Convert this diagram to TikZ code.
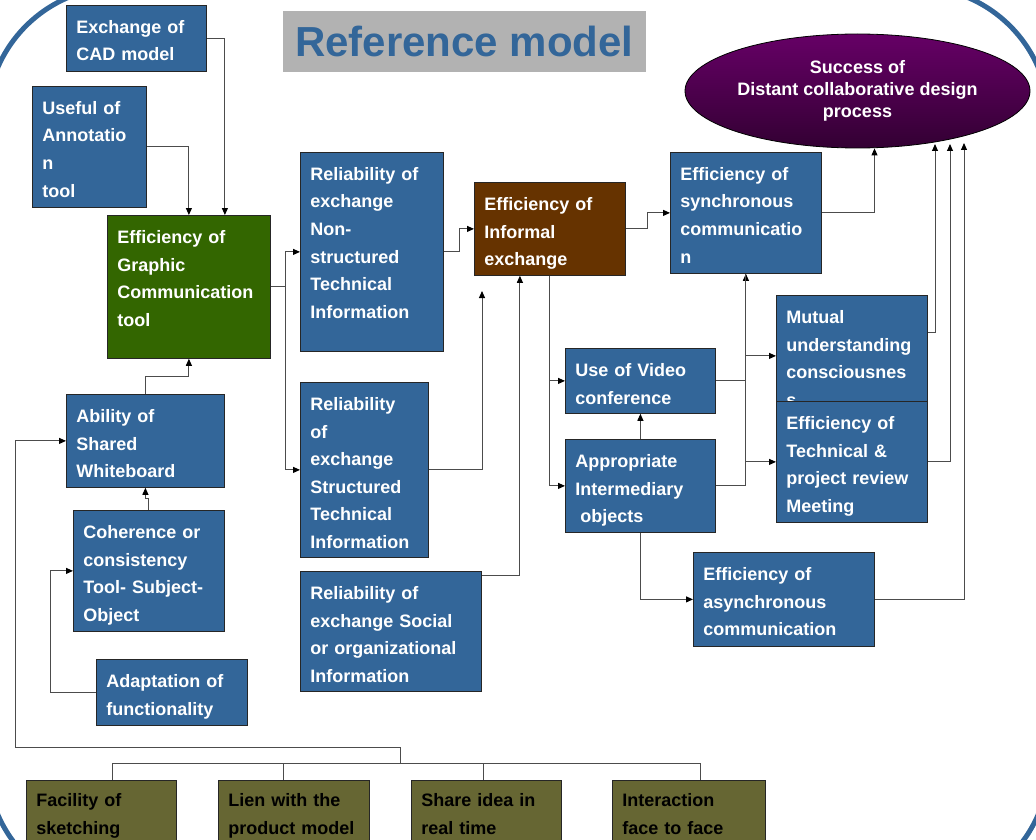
\documentclass[tikz,border=0pt]{standalone}
\usepackage{fontspec}
\setmainfont{Liberation Sans}
\usetikzlibrary{arrows.meta,positioning,shapes.geometric,calc}
\definecolor{boxblue}{RGB}{51,102,153}
\definecolor{boxgreen}{RGB}{51,102,0}
\definecolor{boxbrown}{RGB}{102,51,0}
\definecolor{boxolive}{RGB}{102,102,51}
\definecolor{purptop}{RGB}{102,0,102}
\definecolor{purpbot}{RGB}{51,0,51}
\definecolor{titlegray}{RGB}{178,178,178}
\hyphenpenalty=10000
\exhyphenpenalty=10000
\begin{document}
\begin{tikzpicture}[
  x=1pt, y=-1pt,
  font=\fontsize{18}{27.6}\selectfont\bfseries,
  factor/.style={draw=black!85, line width=0.8pt, fill=boxblue, text=white, anchor=north west,
                 align=left, inner xsep=10pt, inner ysep=0pt, text height=28pt},
  means/.style={factor, fill=boxolive, text=black, text height=26pt},
  sz/.style 2 args={text width=#1, text depth=#2},
  goal/.style={ellipse, draw=black, line width=0.8pt, top color=purptop, bottom color=purpbot,
               text=white, align=center, minimum width=345pt, minimum height=114pt, inner sep=0pt,
               font=\fontsize{18}{22}\selectfont\bfseries},
  titlebox/.style={fill=titlegray, text=boxblue, minimum width=363pt, minimum height=61pt,
                   inner sep=0pt, font=\fontsize{42}{50}\selectfont\bfseries},
  frame/.style={draw=boxblue, line width=5pt, rounded corners=133pt},
  link/.style={draw=black!70, line width=1pt},
  arrow/.style={link, -{Triangle[length=7pt, width=6pt, color=black]}},
]
\useasboundingbox (0,0) rectangle (1036,840);
\clip (0,0) rectangle (1036,840);

% --- Outer frame ---
\draw[frame] (-13,-13) rectangle (1049,895);

% --- Title and goal ---
\node[titlebox] (title) at (464.5,41.5) {Reference model};
\node[goal] (succ) at (857.5,91) {Success of\\Distant collaborative design\\process};

% --- Graphic communication branch ---
\node[factor, sz={120pt}{38pt}] (cad) at (66,5) {Exchange of\\CAD model};
\node[factor, sz={94pt}{93pt}] (annot) at (32,86) {Useful of\\Annotatio\\n\\tool};
\node[factor, fill=boxgreen, sz={143pt}{115pt}] (graph) at (107,215) {Efficiency of\\Graphic\\Communication\\tool};
\node[factor, sz={138pt}{65pt}] (wb) at (66,394) {Ability of\\Shared\\Whiteboard};
\node[factor, sz={131pt}{93pt}] (coh) at (73,510) {Coherence or\\consistency\\Tool- Subject-\\Object};
\node[factor, sz={131pt}{38pt}] (adapt) at (96,659) {Adaptation of\\functionality};

% --- Reliability of exchange ---
\node[factor, sz={123pt}{171pt}] (nonst) at (300,152) {Reliability of\\exchange\\Non-\\structured\\Technical\\Information};
\node[factor, sz={108pt}{147pt}] (struc) at (300,382) {Reliability\\of\\exchange\\Structured\\Technical\\Information};
\node[factor, sz={161pt}{92pt}] (social) at (300,571) {Reliability of\\exchange~Social\\or organizational\\Information};

% --- Informal exchange and communication ---
\node[factor, fill=boxbrown, sz={131pt}{65pt}] (inform) at (474,182) {Efficiency of\\Informal\\exchange};
\node[factor, sz={131pt}{93pt}] (sync) at (670,152) {Efficiency of\\synchronous\\communicatio\\n};
\node[factor, sz={130pt}{37pt}] (video) at (565,348) {Use of Video\\conference};
\node[factor, sz={130pt}{65pt}] (inter) at (565,439) {Appropriate\\Intermediary\\\hspace*{5pt}objects};
\node[factor, sz={131pt}{93pt}] (mutual) at (776,295) {Mutual\\understanding\\consciousnes\\s};
\node[factor, sz={131pt}{93pt}] (techrev) at (776,401) {Efficiency of\\Technical \&\\project review\\Meeting};
\node[factor, sz={161pt}{66pt}] (async) at (693,552) {Efficiency of\\asynchronous\\communication};

% --- Means at the bottom ---
\node[means, sz={130pt}{44pt}] (sketch) at (26,780) {Facility of\\sketching};
\node[means, sz={131pt}{44pt}] (lien) at (218,780) {Lien with the\\product model};
\node[means, sz={130pt}{44pt}] (share) at (411,780) {Share idea in\\real time};
\node[means, sz={133pt}{44pt}] (face) at (612,780) {Interaction\\face to face};

% --- Connectors, left part ---
\draw[arrow] (cad.east) -| ([xshift=36pt]graph.north);
\draw[arrow] (annot.east) -| (graph.north);
\draw[arrow] (wb.north) -- ++(0,-18) -| (graph.south);
\draw[arrow] (coh.north) -- ++(0,-12) -| (wb.south);
\draw[arrow] (adapt.west) -- ++(-46,0) |- (coh.west);
\draw[arrow] (graph.east) -- ++(15,0) |- (nonst.west);
\draw[arrow] (graph.east) -- ++(15,0) |- (struc.west);

% --- Connectors, middle part ---
\coordinate (strucend) at (482,291);
\draw[arrow] (nonst.east) -- ++(16,0) |- (inform.west);
\draw[arrow] (struc.east) -| (strucend);
\draw[arrow] ([yshift=-4pt]social.north east) -| ([xshift=-30pt]inform.south);
\draw[arrow] (inform.east) -- ++(22,0) |- (sync.west);
\draw[arrow] (inform.south) |- (video.west);
\draw[arrow] (inform.south) |- (inter.west);
\draw[arrow] (sync.east) -| ([xshift=17pt]succ.south);
\draw[arrow] (video.east) -| (sync.south);
\draw[link] (inter.east) -| (sync.south);
\draw[arrow] (sync.south |- mutual.west) -- (mutual.west);
\draw[arrow] (sync.south |- techrev.west) -- (techrev.west);
\draw[arrow] (inter.north) -- (video.south);
\draw[arrow] (inter.south) |- (async.west);

% --- Connectors to the goal ---
\coordinate (up1) at (935,144);
\coordinate (up2) at (950,144);
\coordinate (up3) at (964,143);
\draw[arrow] ([yshift=23pt]mutual.east) -| (up1);
\draw[arrow] (techrev.east) -| (up2);
\draw[arrow] (async.east) -| (up3);

% --- Bottom bus and feedback ---
\coordinate (bus) at (400,763);
\foreach \n/\s in {sketch/11pt, lien/-10pt, share/-3pt, face/12pt} {
  \draw[link] (bus) -| ([xshift=\s]\n.north);
}
\draw[arrow] (bus) -- ++(0,-16) -- ++(-385,0) |- (wb.west);

\end{tikzpicture}
\end{document}
